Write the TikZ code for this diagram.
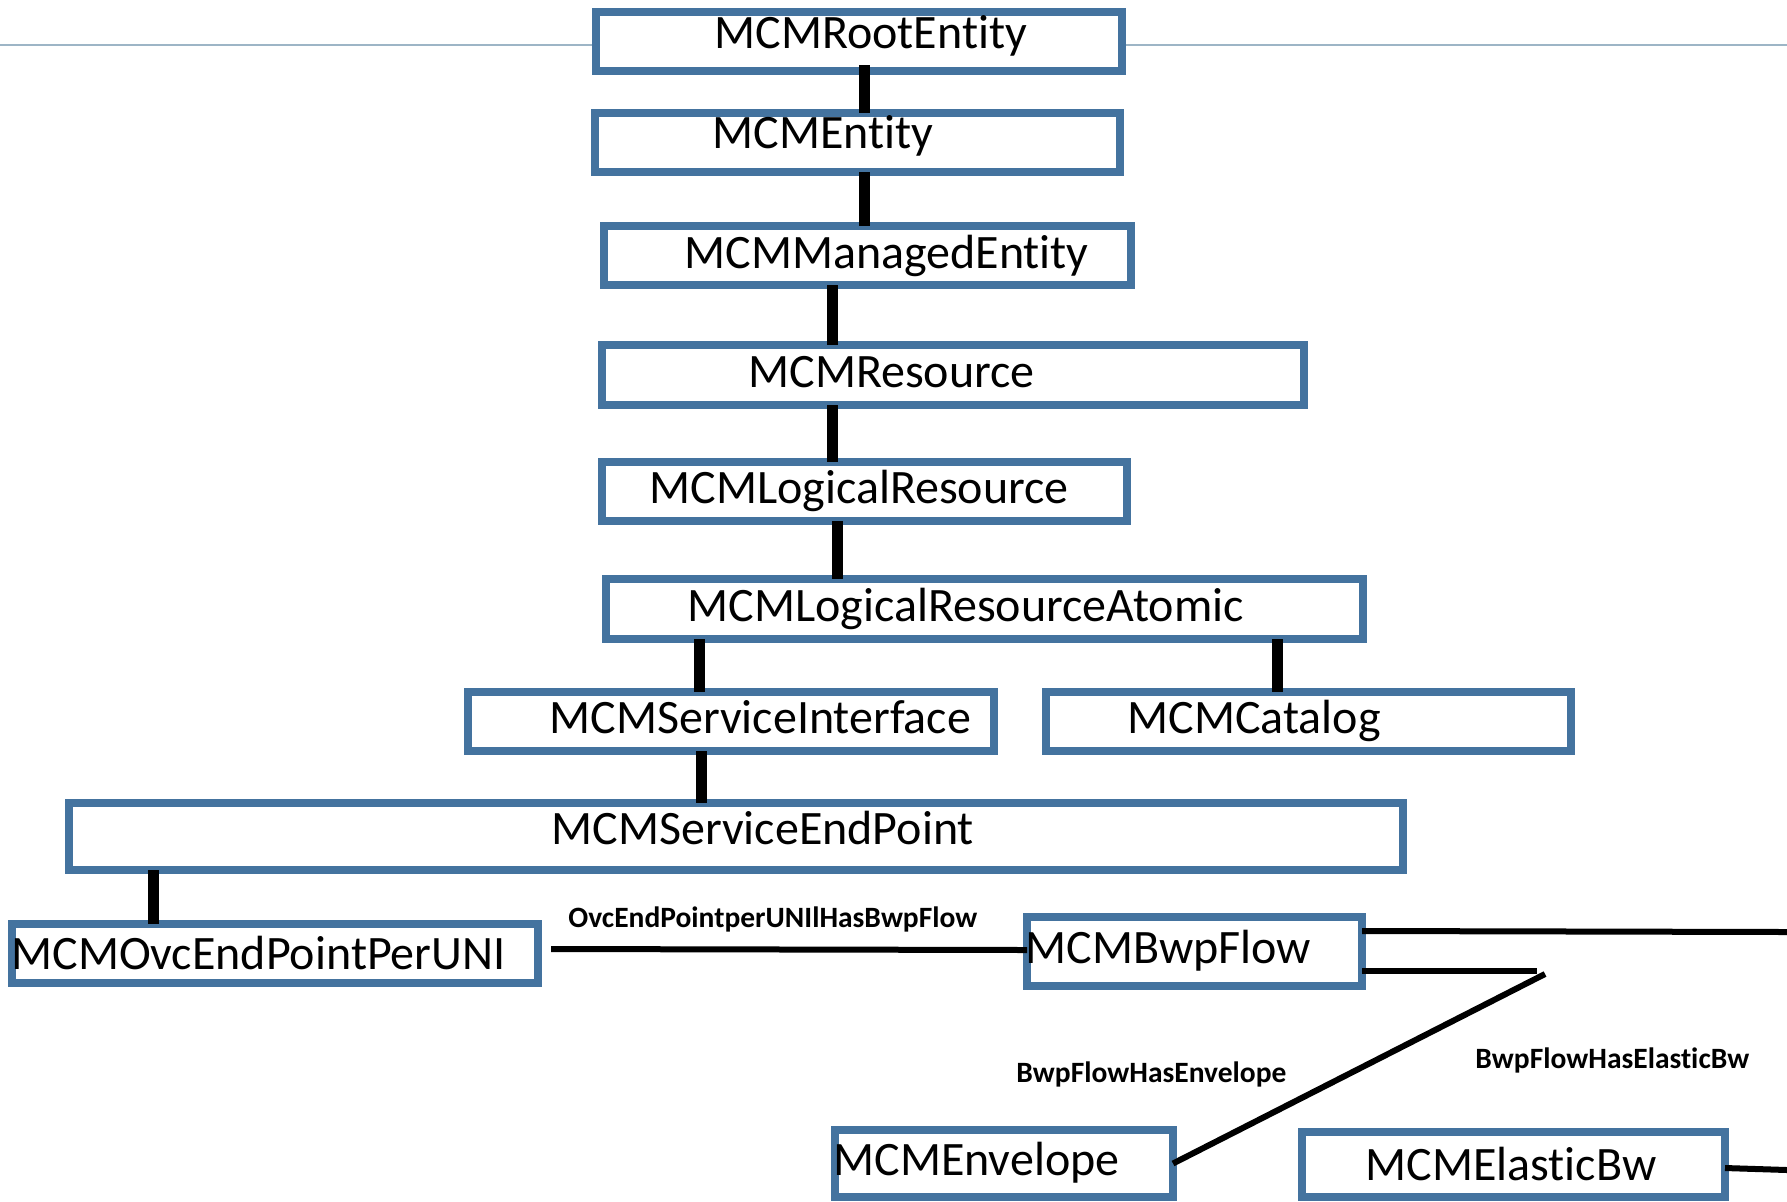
\documentclass[tikz,border=0pt]{standalone}
\usepackage{fontspec}
\setmainfont{Carlito}[Ligatures=NoCommon]
\definecolor{boxblue}{HTML}{44739F}
\definecolor{rulegray}{HTML}{9DB5C6}
\begin{document}
\begin{tikzpicture}[x=0.5pt,y=-0.5pt,
  box/.style={draw=boxblue,line width=4pt,fill=white,inner sep=0pt,outer sep=0pt},
  txt/.style={anchor=base west,inner sep=0pt,font=\fontsize{24pt}{28pt}\selectfont},
  lbl/.style={anchor=base west,inner sep=0pt,font=\bfseries\fontsize{14.75pt}{17pt}\selectfont},
  conn/.style={line width=5.5pt},
  rel/.style={line width=3pt}]
\useasboundingbox[fill=white] (0,0) rectangle (1787,1201);
% top rule
\coordinate (ruleL) at (0,45);
\coordinate (ruleR) at (1787,45);
\draw[rulegray,line width=1pt] (ruleL) -- (ruleR);
% boxes
\node[box,minimum width=263pt,minimum height=29.5pt] (root) at (859,41.5) {};
\node[box,minimum width=262.5pt,minimum height=29.5pt] (entity) at (857.5,142.5) {};
\node[box,minimum width=263.5pt,minimum height=29.5pt] (managed) at (867.5,255.5) {};
\node[box,minimum width=351pt,minimum height=30pt] (resource) at (953,375) {};
\node[box,minimum width=262.5pt,minimum height=29.5pt] (lr) at (864.5,491.5) {};
\node[box,minimum width=378.5pt,minimum height=30pt] (atomic) at (984.5,609) {};
\node[box,minimum width=263pt,minimum height=29.5pt] (si) at (731,721.5) {};
\node[box,minimum width=262.5pt,minimum height=29.5pt] (catalog) at (1308.5,721.5) {};
\node[box,minimum width=667pt,minimum height=33.5pt] (sep) at (736,836.5) {};
\node[box,minimum width=263pt,minimum height=29.5pt] (ovc) at (275,953.5) {};
\node[box,minimum width=167.5pt,minimum height=34.5pt] (bwp) at (1194.5,951.5) {};
\node[box,minimum width=169pt,minimum height=33.5pt] (env) at (1004,1163.5) {};
\node[box,minimum width=211.5pt,minimum height=32.5pt] (elastic) at (1513.5,1164.5) {};
% box texts
\node[txt] (troot) at (714,48) {MCMRootEntity};
\node[txt] (tentity) at (712,148) {MCMEntity};
\node[txt] (tmanaged) at (684,268) {MCMManagedEntity};
\node[txt] (tresource) at (748,387) {MCMResource};
\node[txt] (tlr) at (649,503) {MCMLogicalResource};
\node[txt] (tatomic) at (687,621) {MCMLogicalResourceAtomic};
\node[txt] (tsi) at (549,733) {MCMServiceInterface};
\node[txt] (tcatalog) at (1127,733) {MCMCatalog};
\node[txt] (tsep) at (551,844) {MCMServiceEndPoint};
\node[txt] (tovc) at (11,969) {MCMOvcEndPointPerUNI};
\node[txt] (tbwp) at (1025,963) {MCMBwpFlow};
\node[txt] (tenv) at (833,1175) {MCMEnvelope};
\node[txt] (telastic) at (1365,1180) {MCMElasticBw};
% relation labels
\node[lbl] (l1) at (568,927) {OvcEndPointperUNIlHasBwpFlow};
\node[lbl] (l2) at (1016,1082) {BwpFlowHasEnvelope};
\node[lbl] (l3) at (1475,1068) {BwpFlowHasElasticBw};
% hierarchy connectors
\draw[conn] ([yshift=3pt]root.south -| 864,0) -- (entity.north -| 864,0);
\draw[conn] (entity.south -| 864,0) -- (managed.north -| 864,0);
\draw[conn] (managed.south -| 832,0) -- (resource.north -| 832,0);
\draw[conn] (resource.south -| 832,0) -- (lr.north -| 832,0);
\draw[conn] (lr.south -| 837,0) -- (atomic.north -| 837,0);
\draw[conn] (atomic.south -| 699,0) -- (si.north -| 699,0);
\draw[conn] (atomic.south -| 1277,0) -- (catalog.north -| 1277,0);
\draw[conn] (si.south -| 701,0) -- (sep.north -| 701,0);
\draw[conn] (sep.south -| 153,0) -- (ovc.north -| 153,0);
% relation connectors
\coordinate (e1) at (1787,932);
\coordinate (k1) at (1537,971);
\coordinate (k2) at (1545,974);
\coordinate (e2) at (1787,1170);
\draw[rel] ([xshift=6.5pt,yshift=2.25pt]ovc.east) -- ([yshift=0.75pt]bwp.west);
\draw[rel] ([yshift=10.25pt]bwp.east) -- (e1);
\draw[rel] ([yshift=-9.75pt]bwp.east) -- (k1);
\draw[rel] (k2) -- (env.east);
\draw[rel] ([yshift=-1.75pt]elastic.east) -- (e2);
\end{tikzpicture}
\end{document}
